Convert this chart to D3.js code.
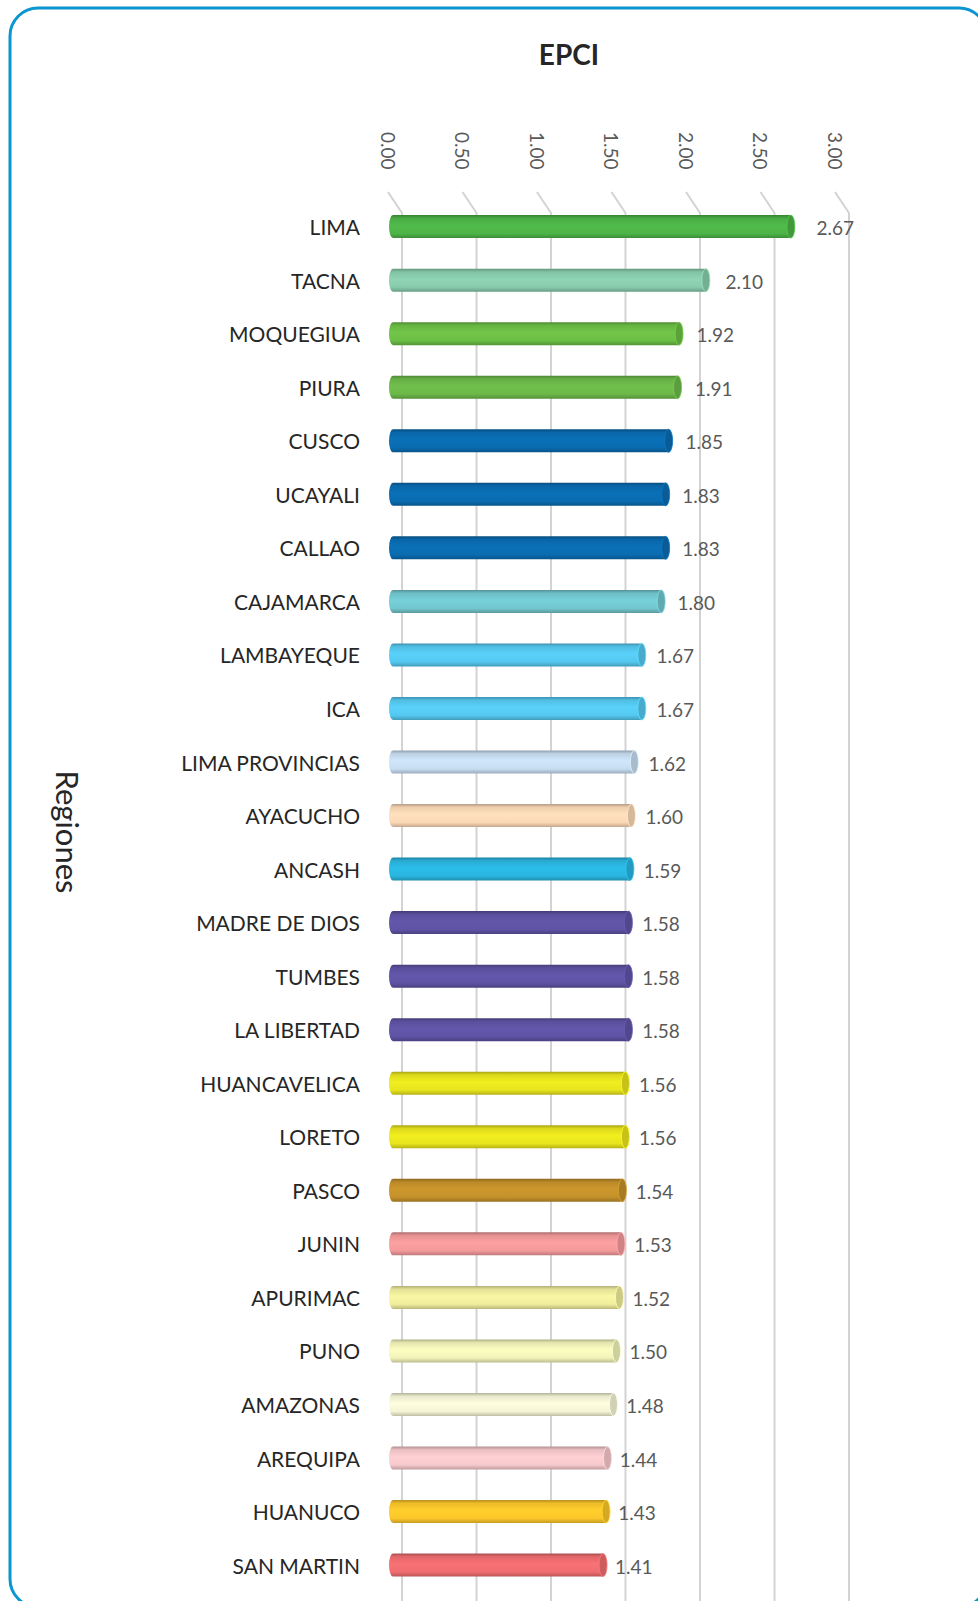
<!DOCTYPE html>
<html>
<head>
<meta charset="utf-8">
<script src="https://cdn.jsdelivr.net/npm/d3@7"></script>
<style>
  html, body { margin: 0; padding: 0; background: #ffffff; }
  svg { display: block; }
  text { font-family: Lato, "Open Sans", "DejaVu Sans", sans-serif; }
</style>
</head>
<body>
<svg id="chart" width="978" height="1601"></svg>
<script>
// EPCI by region
const regions = ["LIMA","TACNA","MOQUEGIUA","PIURA","CUSCO","UCAYALI","CALLAO","CAJAMARCA",
  "LAMBAYEQUE","ICA","LIMA PROVINCIAS","AYACUCHO","ANCASH","MADRE DE DIOS","TUMBES",
  "LA LIBERTAD","HUANCAVELICA","LORETO","PASCO","JUNIN","APURIMAC","PUNO","AMAZONAS",
  "AREQUIPA","HUANUCO","SAN MARTIN"];
const epci = [2.67,2.10,1.92,1.91,1.85,1.83,1.83,1.80,1.67,1.67,1.62,1.60,1.59,1.58,1.58,
  1.58,1.56,1.56,1.54,1.53,1.52,1.50,1.48,1.44,1.43,1.41];
const barColors = ["#4DB447","#88CCAD","#6CBE45","#6CB84A","#0A6CB0","#0A6CB0","#0A6CB0","#72C7CF",
  "#55C8F0","#55C8F0","#C7DDF1","#FBD8B5","#29B5E0","#5E53A4","#5E53A4","#5E53A4",
  "#E8E41E","#E8E41E","#C4912A","#F39A9B","#F0ED9D","#F1F3B9","#F5F5D6","#F7C8CC",
  "#FBC62A","#EF6D70"];
const tickValues = [0, 0.5, 1, 1.5, 2, 2.5, 3];
const tickLabels = ["0.00","0.50","1.00","1.50","2.00","2.50","3.00"];

const svg = d3.select("#chart");
const data = regions.map((r, i) => ({ region: r, value: epci[i], color: barColors[i], i }));

// rounded frame
svg.append("rect")
  .attr("x", 10).attr("y", 8).attr("width", 977).attr("height", 1599)
  .attr("rx", 28).attr("ry", 28)
  .attr("fill", "#ffffff").attr("stroke", "#0A96D0").attr("stroke-width", 3);

const x = d3.scaleLinear().domain([0, 3]).range([393, 393 + 3 * 149]);
const y = d3.scalePoint().domain(regions).range([226.6, 226.6 + 25 * 53.54]);
const depth = 9, floorTop = 192, floorBottom = 213;
const barH = 23, capRx = 4;

// title
svg.append("text").attr("x", 569).attr("y", 65)
  .attr("text-anchor", "middle").attr("font-size", 28).attr("font-weight", 700)
  .attr("fill", "#262626").text("EPCI");

// axis title
svg.append("text")
  .attr("transform", "translate(68,832) rotate(90)")
  .attr("text-anchor", "middle").attr("dominant-baseline", "central")
  .attr("font-size", 31).attr("fill", "#262626").text("Regiones");

// gridlines: slanted floor segment, then back-wall vertical
const grid = svg.append("g").attr("stroke", "#D3D3D3").attr("stroke-width", 2).attr("fill", "none");
grid.selectAll("path").data(tickValues).join("path")
  .attr("d", v => `M${x(v) - 5},${floorTop} L${x(v) + depth},${floorBottom} L${x(v) + depth},1601`);

// value axis labels (rotated)
svg.append("g").selectAll("text").data(tickValues).join("text")
  .attr("transform", v => `translate(${x(v) - 5},132) rotate(90)`)
  .attr("text-anchor", "start").attr("dominant-baseline", "central")
  .attr("font-size", 19).attr("fill", "#595959")
  .text((v, i) => tickLabels[i]);

// category labels
svg.append("g").selectAll("text").data(data).join("text")
  .attr("x", 360).attr("y", d => y(d.region))
  .attr("text-anchor", "end").attr("dominant-baseline", "central")
  .attr("font-size", 21).attr("fill", "#262626")
  .text(d => d.region);

// cylinder shading gradients
const defs = svg.append("defs");
data.forEach(d => {
  const c = d3.color(d.color);
  const g = defs.append("linearGradient").attr("id", "cyl" + d.i)
    .attr("x1", 0).attr("y1", 0).attr("x2", 0).attr("y2", 1);
  [[0, c.darker(0.9)], [0.14, c.darker(0.15)], [0.45, c.brighter(0.12)], [0.8, c], [1, c.darker(0.7)]]
    .forEach(([o, col]) => g.append("stop").attr("offset", o).attr("stop-color", col.formatHex()));
});

// bars as cylinders
const bars = svg.append("g").selectAll("g").data(data).join("g");
bars.append("path")
  .attr("d", d => {
    const x0 = x(0), x1 = x(d.value), yc = y(d.region), h = barH / 2;
    return `M${x0},${yc - h} L${x1},${yc - h} L${x1},${yc + h} L${x0},${yc + h} A${capRx},${h} 0 0 1 ${x0},${yc - h} Z`;
  })
  .attr("fill", d => `url(#cyl${d.i})`);
bars.append("ellipse")
  .attr("cx", d => x(d.value)).attr("cy", d => y(d.region))
  .attr("rx", capRx).attr("ry", barH / 2)
  .attr("fill", d => d3.color(d.color).darker(0.45).formatHex())
  .attr("stroke", d => d3.color(d.color).brighter(0.3).formatHex())
  .attr("stroke-width", 0.8);

// value labels, pushed outward slightly more for longer bars (perspective)
svg.append("g").selectAll("text").data(data).join("text")
  .attr("x", d => x(d.value) + capRx + 10 + (d.value - 1.6) * 11).attr("y", d => y(d.region) + 1)
  .attr("dominant-baseline", "central")
  .attr("font-size", 19).attr("fill", "#595959")
  .text(d => d.value.toFixed(2));
</script>
</body>
</html>
